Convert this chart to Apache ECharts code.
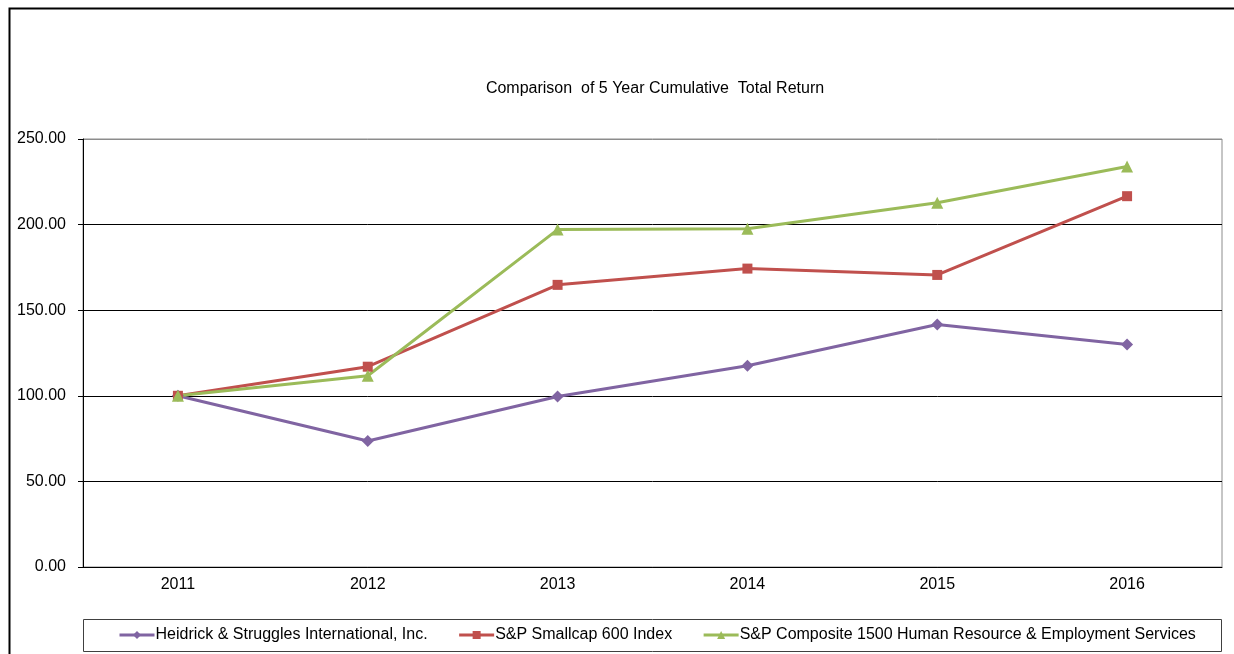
<!DOCTYPE html>
<html style="height: 100%">
<head>
    <meta charset="UTF-8">
    <title>Comparison of 5 Year Cumulative Total Return</title>
    <script src="https://cdn.jsdelivr.net/npm/echarts/dist/echarts.min.js"></script>
    <style>
        #main { width: 1234px; height: 654px; }
    </style>
</head>
<body style="margin: 0; background: #fff">
    <div id="main"></div>
    <script type="text/javascript">
        var years = ['2011', '2012', '2013', '2014', '2015', '2016'];
        var heidrick = [100.00, 73.6, 99.6, 117.6, 141.6, 129.9];
        var smallcap = [100.00, 117.0, 164.8, 174.3, 170.6, 216.6];
        var composite = [100.00, 111.7, 197.1, 197.6, 212.8, 233.9];
        var seriesNames = [
            'Heidrick & Struggles International, Inc.',
            'S&P Smallcap 600 Index',
            'S&P Composite 1500 Human Resource & Employment Services'
        ];

        var chartDom = document.getElementById('main');
        var myChart = echarts.init(chartDom);
        var font = 'Liberation Sans, Arial, sans-serif';

        function lineSeries(name, data, color, symbol, size) {
            return {
                name: name,
                type: 'line',
                data: data,
                symbol: symbol,
                symbolSize: size,
                lineStyle: { color: color, width: 3 },
                itemStyle: { color: color },
                emphasis: { disabled: true },
                animation: false
            };
        }

        var option = {
            backgroundColor: '#fff',
            animation: false,
            title: {
                text: 'Comparison  of 5 Year Cumulative  Total Return',
                left: 650,
                top: 76,
                textAlign: 'center',
                textStyle: { fontFamily: font, fontSize: 16, fontWeight: 'normal', color: '#000' }
            },
            grid: {
                left: 83, right: 12, top: 139, bottom: 87,
                show: true, borderColor: '#8c8c8c', borderWidth: 1
            },
            legend: {
                left: 113,
                top: 622,
                itemGap: 30,
                itemWidth: 35,
                itemHeight: 10,
                lineStyle: { width: 3 },
                textStyle: { fontFamily: font, fontSize: 16, color: '#000', padding: [0, 0, 0, -4] },
                data: seriesNames
            },
            xAxis: {
                type: 'category',
                data: years,
                boundaryGap: true,
                axisLine: { lineStyle: { color: '#000', width: 1 } },
                axisTick: { alignWithLabel: true, inside: true, length: 4, lineStyle: { color: '#000' } },
                axisLabel: { fontFamily: font, fontSize: 16, color: '#000', margin: 10 }
            },
            yAxis: {
                type: 'value',
                min: 0, max: 250, interval: 50,
                axisLine: { show: true, lineStyle: { color: '#000', width: 1 } },
                axisTick: { show: true, length: 5, lineStyle: { color: '#000' } },
                axisLabel: {
                    fontFamily: font, fontSize: 16, color: '#000', margin: 17,
                    formatter: function (v) { return v.toFixed(2); }
                },
                splitLine: {
                    lineStyle: { color: ['#000', '#000', '#000', '#000', '#000', '#8c8c8c'], width: 1 }
                }
            },
            graphic: [
                {
                    type: 'rect',
                    shape: { x: 9.5, y: 8.5, width: 1400, height: 800 },
                    style: { fill: 'none', stroke: '#000', lineWidth: 2 },
                    silent: true
                },
                {
                    type: 'rect',
                    shape: { x: 83.5, y: 619.5, width: 1138, height: 32 },
                    style: { fill: 'none', stroke: '#404040', lineWidth: 1 },
                    silent: true
                }
            ],
            series: [
                lineSeries(seriesNames[0], heidrick, '#8064A2', 'diamond', 12),
                lineSeries(seriesNames[1], smallcap, '#C0504D', 'rect', 10),
                lineSeries(seriesNames[2], composite, '#9BBB59', 'triangle', 12)
            ]
        };

        myChart.setOption(option);
    </script>
</body>
</html>
